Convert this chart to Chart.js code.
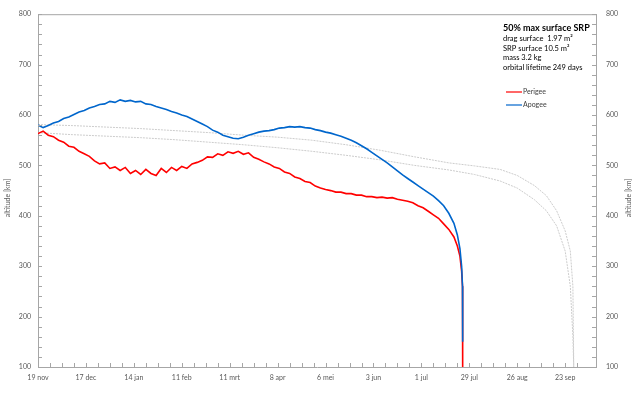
<!DOCTYPE html>
<html>
<head>
<meta charset="utf-8">
<script src="https://cdn.jsdelivr.net/npm/chart.js@4.4.1/dist/chart.umd.min.js"></script>
<style>
    html, body { margin: 0; padding: 0; background: #fff; }
    #wrap { width: 640px; height: 399px; }
</style>
</head>
<body>
<div id="wrap"><canvas id="orbitChart" width="640" height="399"></canvas></div>
<script>
// days since 19 nov
const orbitDays = [
    0, 3, 6, 9, 12, 15, 18, 21, 24, 27, 30, 33, 36, 39, 42, 45, 48, 51, 54, 57,
    60, 63, 66, 69, 72, 75, 78, 81, 84, 87, 90, 93, 96, 99, 102, 105, 108, 111, 114, 117,
    120, 123, 126, 129, 132, 135, 138, 141, 144, 147, 150, 153, 156, 159, 162, 165, 168, 171, 174, 177,
    180, 183, 186, 189, 192, 195, 198, 201, 204, 207, 210, 213, 216, 219, 222, 225, 228, 231, 234, 237,
    240, 243, 245, 246.5, 247.5, 248, 248.1
];
const perigee = [
    563, 568, 560, 557, 550, 546, 538, 536, 528, 523, 518, 509, 503, 505, 494, 497, 490, 496, 484, 490,
    482, 492, 484, 480, 494, 486, 496, 490, 498, 494, 503, 506, 510, 517, 516, 523, 520, 527, 524, 528,
    522, 525, 516, 512, 507, 503, 497, 494, 487, 484, 477, 474, 468, 466, 459, 455, 452, 450, 447, 447,
    444, 444, 441, 441, 438, 438, 436, 437, 435, 436, 433, 431, 429, 426, 420, 416, 409, 402, 395, 384,
    373, 358, 340, 320, 290, 260, 100
];
const apogee = [
    580, 575, 579, 584, 587, 593, 596, 601, 606, 609, 614, 617, 621, 622, 627, 625, 630, 627, 629, 626,
    627, 622, 621, 617, 614, 611, 607, 604, 600, 597, 592, 587, 582, 577, 570, 566, 560, 557, 554, 553,
    556, 560, 563, 566, 568, 569, 571, 574, 575, 577, 576, 577, 575, 574, 571, 569, 566, 564, 561, 558,
    554, 550, 545, 539, 533, 526, 519, 512, 505, 497, 489, 481, 474, 467, 460, 453, 446, 439, 430, 420,
    405, 385, 362, 335, 300, 260, 150
];

// grey reference run
const greyDays = [0, 20, 40, 60, 80, 100, 120, 140, 160, 180, 200, 220, 240, 255, 270, 280, 290, 297, 303, 308, 311, 312.5, 313];
const greyUpper = [581, 579, 576, 573, 569, 565, 560, 556, 550, 541, 530, 517, 505, 499, 492, 480, 460, 440, 410, 370, 330, 260, 100];
const greyLower = [565, 561, 558, 555, 551, 546, 541, 535, 528, 520, 511, 500, 491, 482, 469, 455, 432, 410, 380, 330, 260, 160, 100];

const xTickLabels = ['19 nov', '17 dec', '14 jan', '11 feb', '11 mrt', '8 apr', '6 mei', '3 jun', '1 jul', '29 jul', '26 aug', '23 sep'];

const infoLines = ['drag surface  1.97 m\u00b2', 'SRP surface 10.5 m\u00b2', 'mass 3.2 kg', 'orbital lifetime 249 days'];

const toPoints = (xs, ys) => xs.map((d, i) => ({ x: d, y: ys[i] }));

const axisGrey = '#a6a6a6';
const labelGrey = '#595959';
const font = 'Lato, "Liberation Sans", sans-serif';

// inward tick marks, top border, axis titles, info text and legend
const decorPlugin = {
    id: 'decor',
    afterDraw(chart) {
        const c = chart.ctx;
        const a = chart.chartArea;
        c.save();
        c.strokeStyle = axisGrey;
        c.lineWidth = 1;
        c.beginPath();
        c.moveTo(a.left, a.top + 0.5);
        c.lineTo(a.right, a.top + 0.5);
        chart.scales.x.ticks.forEach(t => {
            const px = Math.round(chart.scales.x.getPixelForValue(t.value)) + 0.5;
            c.moveTo(px, a.bottom);
            c.lineTo(px, a.bottom - 4);
        });
        chart.scales.y.ticks.forEach(t => {
            const py = Math.round(chart.scales.y.getPixelForValue(t.value)) + 0.5;
            c.moveTo(a.left, py);
            c.lineTo(a.left + 4, py);
            c.moveTo(a.right, py);
            c.lineTo(a.right - 4, py);
        });
        c.stroke();

        // axis titles, both read bottom to top
        c.fillStyle = labelGrey;
        c.font = '7px ' + font;
        c.textAlign = 'center';
        c.textBaseline = 'middle';
        [8, 629].forEach(x => {
            c.save();
            c.translate(x, 198);
            c.rotate(-Math.PI / 2);
            c.fillText('altitude [km]', 0, 0);
            c.restore();
        });

        c.textAlign = 'left';
        c.fillStyle = '#000';
        c.font = 'bold 9px ' + font;
        c.fillText('50% max surface SRP', 503, 28);
        c.font = '7.5px ' + font;
        infoLines.forEach((s, i) => c.fillText(s, 503, 38.5 + i * 9.7));

        c.lineWidth = 1.2;
        c.strokeStyle = '#ff0000';
        c.beginPath(); c.moveTo(506, 92); c.lineTo(522, 92); c.stroke();
        c.strokeStyle = '#0066cc';
        c.beginPath(); c.moveTo(506, 105); c.lineTo(522, 105); c.stroke();
        c.fillStyle = '#404040';
        c.font = '7px ' + font;
        c.fillText('Perigee', 523, 92);
        c.fillText('Apogee', 523, 105);
        c.restore();
    }
};

const yAxis = (pos, width, pad) => ({
    type: 'linear',
    position: pos,
    min: 100,
    max: 800,
    afterFit: s => { s.width = width; },
    grid: { display: true, drawOnChartArea: false, drawTicks: false },
    border: { display: true, color: axisGrey, width: 1 },
    ticks: {
        stepSize: 20,
        autoSkip: false,
        padding: pad,
        color: labelGrey,
        font: { family: font, size: 7 },
        callback: v => (v % 100 === 0 ? v : '')
    }
});

const ctx = document.getElementById('orbitChart').getContext('2d');
new Chart(ctx, {
    type: 'line',
    data: {
        datasets: [
            {
                label: 'Apogee',
                data: toPoints(orbitDays, apogee),
                borderColor: '#0066cc',
                borderWidth: 1.6,
                order: 0
            },
            {
                label: 'Perigee',
                data: toPoints(orbitDays, perigee),
                borderColor: '#ff0000',
                borderWidth: 1.6,
                order: 1
            },
            {
                label: 'ref apogee',
                data: toPoints(greyDays, greyUpper),
                borderColor: '#cccccc',
                borderWidth: 1,
                borderDash: [2, 1],
                order: 2
            },
            {
                label: 'ref perigee',
                data: toPoints(greyDays, greyLower),
                borderColor: '#cccccc',
                borderWidth: 1,
                borderDash: [2, 1],
                order: 3
            }
        ]
    },
    options: {
        responsive: false,
        animation: false,
        layout: { padding: { top: 13, left: 0, right: 0, bottom: 0 } },
        elements: { point: { radius: 0 }, line: { tension: 0 } },
        scales: {
            x: {
                type: 'linear',
                min: 0,
                max: 326,
                afterFit: s => { s.height = 32; },
                grid: { display: true, drawOnChartArea: false, drawTicks: false },
                border: { display: true, color: axisGrey, width: 1 },
                ticks: {
                    stepSize: 7,
                    autoSkip: false,
                    maxRotation: 0,
                    padding: 7,
                    color: labelGrey,
                    font: { family: font, size: 7 },
                    callback: v => (v % 28 === 0 && v / 28 < xTickLabels.length ? xTickLabels[v / 28] : '')
                }
            },
            y: yAxis('left', 38, 7),
            y2: yAxis('right', 44, 10)
        },
        plugins: {
            legend: { display: false },
            tooltip: { enabled: false }
        }
    },
    plugins: [decorPlugin]
});
</script>
</body>
</html>
